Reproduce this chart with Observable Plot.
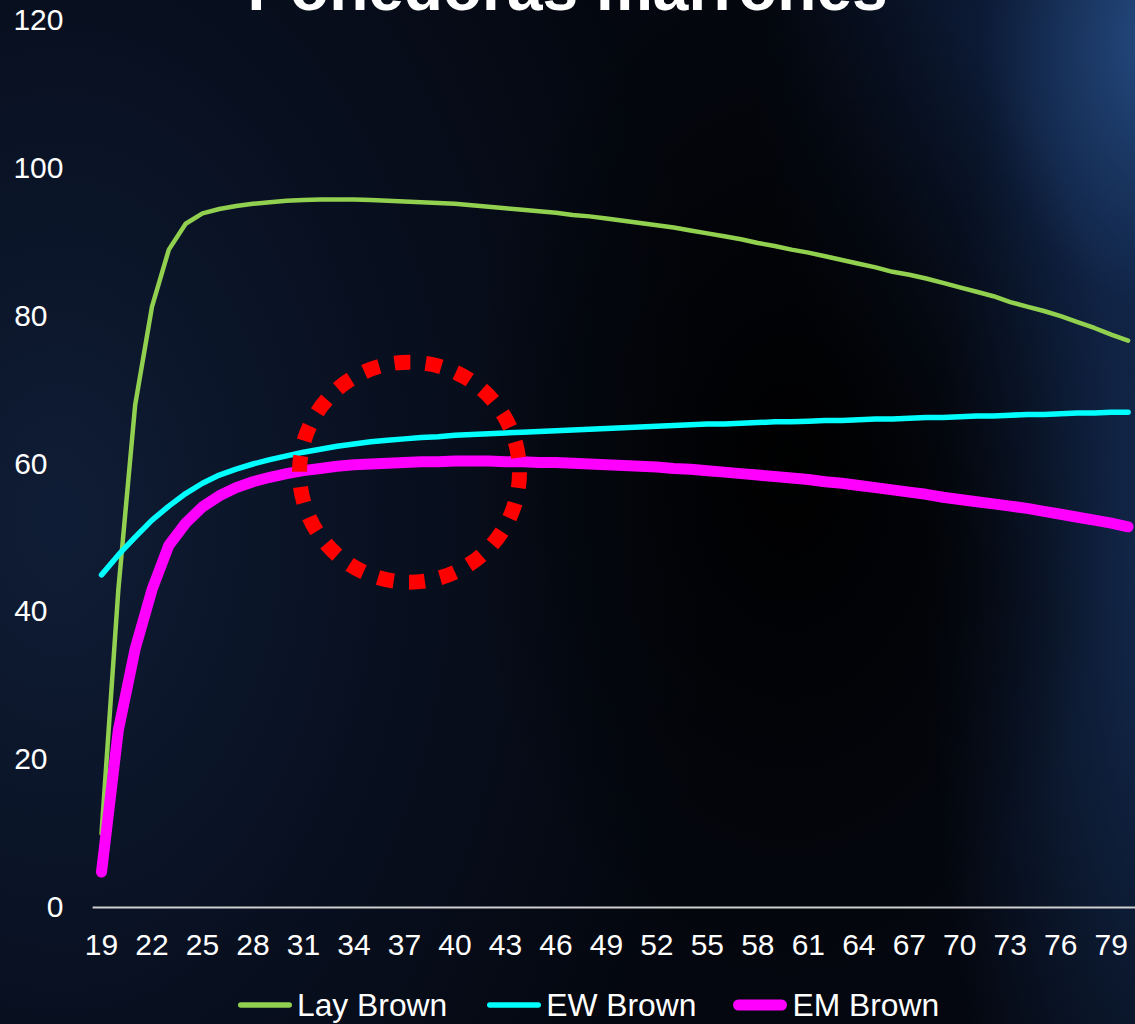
<!DOCTYPE html>
<html>
<head>
<meta charset="utf-8">
<script src="https://cdn.jsdelivr.net/npm/d3@7"></script>
<script src="https://cdn.jsdelivr.net/npm/@observablehq/plot@0.6"></script>
<style>
  html, body { margin: 0; padding: 0; }
  body { width: 1135px; height: 1024px; overflow: hidden; font-family: "Liberation Sans", Arial, sans-serif; }
  #page {
    position: relative; width: 1135px; height: 1024px; overflow: hidden;
    background-color: #04070f;
    background-image:
      radial-gradient(ellipse 330px 520px at 790px 470px, rgba(0,0,0,0.95), rgba(0,0,0,0) 100%),
      radial-gradient(ellipse 400px 600px at 1160px 40px, rgba(38,78,135,0.95), rgba(20,45,90,0.5) 45%, rgba(0,0,0,0) 100%),
      radial-gradient(ellipse 240px 760px at 1170px 620px, rgba(22,48,90,0.85), rgba(0,0,0,0) 100%),
      radial-gradient(ellipse 650px 1000px at 60px 520px, rgba(16,30,56,0.95), rgba(10,20,40,0.6) 55%, rgba(0,0,0,0) 100%);
  }
  #title {
    position: absolute; left: 0; width: 1135px; top: -44px;
    text-align: center; color: #fff; font-weight: bold; font-size: 64px; line-height: 64px;
    white-space: nowrap;
  }
  #chart { position: absolute; left: 0; top: 0; }
  #legend {
    position: absolute; left: 237px; top: 987px; height: 36px;
    display: flex; align-items: center; color: #fff; font-size: 31.8px; white-space: nowrap;
  }
  .item { display: flex; align-items: center; }
  .item svg { display: block; margin-right: 4px; }
</style>
</head>
<body>
<div id="page">
  <div id="chart"></div>
  <div id="title">Ponedoras marrones</div>
  <div id="legend"></div>
</div>
<script>
const weeks = d3.range(19, 81);
const xTicks = d3.range(19, 80, 3);
const yTicksWide = [0, 100, 120];
const yTicksNarrow = [20, 40, 60, 80];

const seriesNames = ["Lay Brown", "EW Brown", "EM Brown"];
const seriesColors = ["#92D050", "#00FFFF", "#FF00FF"];

const layBrown = [
  10, 43, 68, 81.3, 89, 92.5, 93.9, 94.5, 94.9, 95.2,
  95.4, 95.6, 95.7, 95.8, 95.8, 95.8, 95.7, 95.6, 95.5, 95.4,
  95.3, 95.2, 95.0, 94.8, 94.6, 94.4, 94.2, 94.0, 93.7, 93.5,
  93.2, 92.9, 92.6, 92.3, 92.0, 91.6, 91.2, 90.8, 90.4, 89.9,
  89.5, 89.0, 88.6, 88.1, 87.6, 87.1, 86.6, 86.0, 85.6, 85.1,
  84.5, 83.9, 83.3, 82.7, 81.9, 81.3, 80.7, 80.0, 79.2, 78.4,
  77.5, 76.7
];
const ewBrown = [
  45.0, 47.7, 50.1, 52.4, 54.3, 56.0, 57.4, 58.5, 59.3, 60.0,
  60.6, 61.1, 61.6, 62.0, 62.4, 62.7, 63.0, 63.2, 63.4, 63.6,
  63.7, 63.9, 64.0, 64.1, 64.2, 64.3, 64.4, 64.5, 64.6, 64.7,
  64.8, 64.9, 65.0, 65.1, 65.2, 65.3, 65.4, 65.4, 65.5, 65.6,
  65.7, 65.7, 65.8, 65.9, 65.9, 66.0, 66.1, 66.1, 66.2, 66.3,
  66.3, 66.4, 66.5, 66.5, 66.6, 66.7, 66.7, 66.8, 66.9, 66.9,
  67.0, 67.0
];
const emBrown = [
  4.8, 24, 35, 43, 49, 52, 54.2, 55.7, 56.8, 57.6,
  58.2, 58.7, 59.1, 59.4, 59.7, 59.9, 60.0, 60.1, 60.2, 60.3,
  60.3, 60.4, 60.4, 60.4, 60.3, 60.3, 60.2, 60.2, 60.1, 60.0,
  59.9, 59.8, 59.7, 59.6, 59.4, 59.3, 59.1, 58.9, 58.7, 58.5,
  58.3, 58.1, 57.9, 57.6, 57.4, 57.1, 56.8, 56.5, 56.2, 55.9,
  55.5, 55.2, 54.9, 54.6, 54.3, 54.0, 53.6, 53.2, 52.8, 52.4,
  52.0, 51.5
];

// highlighted region (red dotted circle)
const highlightWeek = [37.3];
const highlightValue = [58.9];

const lineStyle = {strokeLinecap: "round", strokeLinejoin: "round"};

const chart = Plot.plot({
  width: 1135,
  height: 975,
  marginLeft: 92.6,
  marginRight: 0,
  marginTop: 20,
  marginBottom: 68,
  style: {background: "transparent", color: "#fff", fontFamily: "'Liberation Sans', Arial, sans-serif", fontSize: "30px", overflow: "visible"},
  x: {domain: [18.5, 80.44], axis: null},
  y: {domain: [0, 120], axis: null},
  marks: [
    Plot.ruleY([0], {stroke: "#cfcfcf", strokeWidth: 2}),
    Plot.axisX(xTicks, {tickSize: 0, tickPadding: 26, fontSize: 30, fill: "#fff", stroke: null}),
    Plot.axisY(yTicksWide, {tickSize: 0, tickPadding: 29.6, fontSize: 30, fill: "#fff", stroke: null}),
    Plot.axisY(yTicksNarrow, {tickSize: 0, tickPadding: 45.6, fontSize: 30, fill: "#fff", stroke: null}),
    Plot.line(layBrown, {x: weeks, y: Plot.identity, stroke: seriesColors[0], strokeWidth: 4.5, ...lineStyle}),
    Plot.line(ewBrown, {x: weeks, y: Plot.identity, stroke: seriesColors[1], strokeWidth: 5.5, ...lineStyle}),
    Plot.line(emBrown, {x: weeks, y: Plot.identity, stroke: seriesColors[2], strokeWidth: 11, ...lineStyle}),
    Plot.dot(highlightWeek, {x: Plot.identity, y: (d, i) => highlightValue[i], r: 110, fill: "none", stroke: "#FF0000", strokeWidth: 15, strokeDasharray: "16 15.42"})
  ]
});
document.getElementById("chart").appendChild(chart);

// legend
const legend = d3.select("#legend");
const gaps = [39, 36, 0];
seriesNames.forEach((name, i) => {
  const item = legend.append("div").attr("class", "item").style("margin-right", gaps[i] + "px");
  const sw = i === 2 ? 11 : 5.5;
  const svg = item.append("svg").attr("width", 56).attr("height", 16);
  svg.append("line")
    .attr("x1", sw / 2 + 1).attr("x2", 56 - sw / 2 - 1)
    .attr("y1", 8).attr("y2", 8)
    .attr("stroke", seriesColors[i]).attr("stroke-width", sw)
    .attr("stroke-linecap", "round");
  item.append("span").text(name);
});
</script>
</body>
</html>
